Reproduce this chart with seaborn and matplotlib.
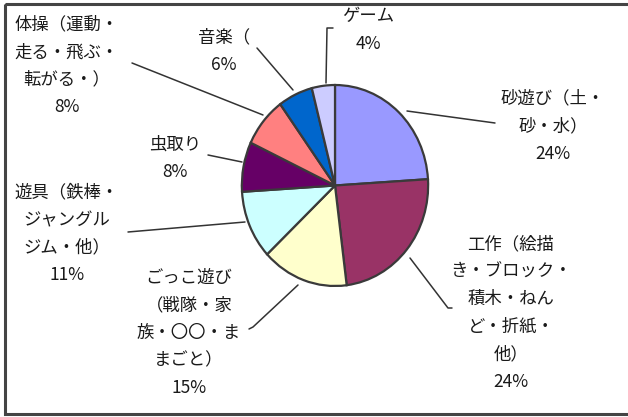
import matplotlib
matplotlib.use("Agg")
import matplotlib.pyplot as plt
import seaborn as sns
from matplotlib.patches import Rectangle

# ---- data ----
categories = [
    "砂遊び（土・\n砂・水）",
    "工作（絵描\nき・ブロック・\n積木・ねん\nど・折紙・\n他）",
    "ごっこ遊び\n（戦隊・家\n族・〇〇・ま\nまごと）",
    "遊具（鉄棒・\nジャングル\nジム・他）",
    "虫取り",
    "体操（運動・\n走る・飛ぶ・\n転がる・）",
    "音楽（",
    "ゲーム",
]
values = [24, 24, 15, 11, 8, 8, 6, 4]
colors = ["#9999FF", "#993366", "#FFFFCC", "#CCFFFF",
          "#660066", "#FF8080", "#0066CC", "#CCCCFF"]

sns.set_theme(style="white")
plt.rcParams["font.family"] = ["Noto Sans CJK JP", "DejaVu Sans"]

W, H = 628, 417
fig = plt.figure(figsize=(W / 100, H / 100), dpi=100)
fig.patch.set_facecolor("white")

# pie axes (slightly elliptical as in reference)
pl, pr, pt, pb = 240, 430, 83, 288
pax = fig.add_axes([pl / W, 1 - pb / H, (pr - pl) / W, (pb - pt) / H])
pax.pie(values, colors=colors, startangle=90, counterclock=False,
        wedgeprops=dict(edgecolor="#3a3a3a", linewidth=1.6))
pax.set_xlim(-1.02, 1.02)
pax.set_ylim(-1.02, 1.02)
pax.set_aspect("auto")
pax.axis("off")

# overlay axes in pixel coordinates for labels / leader lines
ov = fig.add_axes([0, 0, 1, 1], zorder=5)
ov.set_xlim(0, W)
ov.set_ylim(H, 0)
ov.axis("off")
ov.patch.set_alpha(0)

label_pos = [(553, 126), (511, 313), (189, 333), (67, 234),
             (175, 158), (67, 66), (224, 51), (368, 30)]
leaders = [
    [(407, 111), (495, 123)],
    [(410, 258), (448, 308), (452, 308)],
    [(298, 285), (253, 327), (249, 329)],
    [(245, 222), (128, 232)],
    [(242, 162), (208, 155)],
    [(263, 115), (132, 63)],
    [(293, 90), (257, 48)],
    [(326, 83), (327, 28), (333, 28)],
]

for cat, v, (x, y), ln in zip(categories, values, label_pos, leaders):
    ov.text(x, y, f"{cat}\n{v}%", ha="center", va="center",
            fontsize=12.5, color="#1a1a1a", linespacing=1.68)
    xs, ys = zip(*ln)
    ov.plot(xs, ys, color="#333333", lw=1.1)

# outer frame
ov.add_patch(Rectangle((5, 4), W + 10, 410, fill=False,
                       edgecolor="#444444", lw=2.2, zorder=10))

fig.savefig("out.png", dpi=100, facecolor="white")
